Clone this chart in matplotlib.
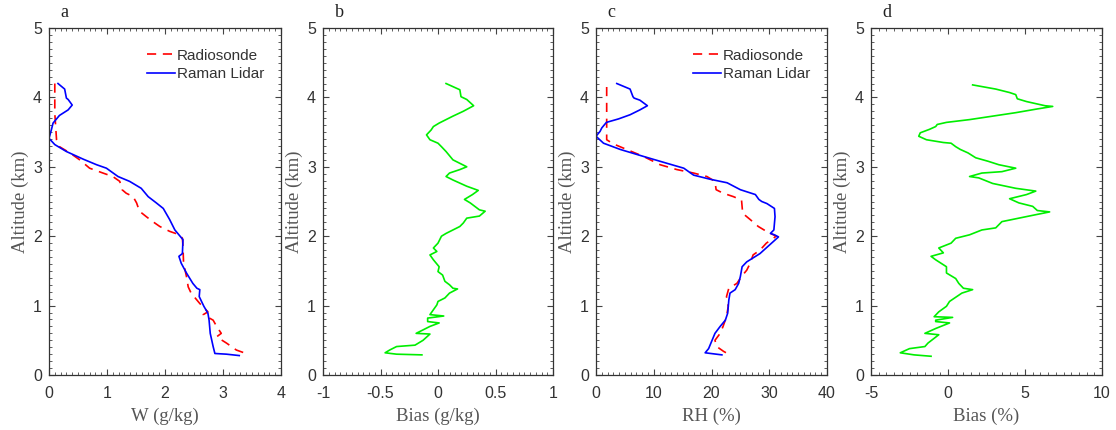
import matplotlib
matplotlib.use("Agg")
import matplotlib.pyplot as plt
from matplotlib.ticker import MultipleLocator, FuncFormatter

# ---- data ----
# panel a: water vapour mixing ratio (g/kg)
w_lidar_x = [0.155, 0.27, 0.30, 0.33, 0.40, 0.33, 0.18, 0.07, 0.04, 0.0, 0.10, 0.30, 0.59, 0.82, 0.99,
             1.19, 1.39, 1.59, 1.71, 1.85, 1.97, 2.08, 2.17, 2.26, 2.31, 2.30, 2.24, 2.28, 2.37, 2.48,
             2.55, 2.60, 2.59, 2.67, 2.74, 2.76, 2.78, 2.83, 2.86, 3.06, 3.28]
w_lidar_y = [4.20, 4.12, 3.99, 3.97, 3.89, 3.82, 3.74, 3.63, 3.53, 3.41, 3.32, 3.22, 3.11, 3.03, 2.98,
             2.86, 2.79, 2.69, 2.57, 2.48, 2.40, 2.24, 2.09, 2.00, 1.95, 1.75, 1.71, 1.61, 1.47, 1.32,
             1.25, 1.23, 1.13, 0.99, 0.89, 0.79, 0.60, 0.41, 0.31, 0.30, 0.28]
w_sonde_x = [0.10, 0.10, 0.10, 0.13, 0.18, 0.36, 0.53, 0.70, 0.93, 1.10, 1.22, 1.26, 1.33, 1.45, 1.51,
             1.56, 1.68, 1.79, 1.91, 2.08, 2.25, 2.30, 2.31, 2.32, 2.37, 2.40, 2.45, 2.60, 2.74, 2.66,
             2.83, 2.89, 2.97, 2.89, 3.06, 3.23, 3.43]
w_sonde_y = [4.20, 4.16, 3.77, 3.39, 3.29, 3.20, 3.10, 2.98, 2.91, 2.86, 2.79, 2.67, 2.62, 2.57, 2.48,
             2.36, 2.28, 2.21, 2.14, 2.07, 2.02, 1.97, 1.85, 1.61, 1.42, 1.27, 1.18, 1.03, 0.91, 0.87,
             0.79, 0.70, 0.60, 0.55, 0.46, 0.36, 0.30]

# panel b: W bias (g/kg)
wb_x = [0.07, 0.19, 0.20, 0.25, 0.31, 0.22, 0.13, 0.01, -0.04, -0.06, -0.10, -0.07, 0.0, 0.03, 0.07,
        0.13, 0.19, 0.25, 0.19, 0.10, 0.07, 0.13, 0.25, 0.35, 0.30, 0.23, 0.28, 0.36, 0.41, 0.36,
        0.25, 0.22, 0.19, 0.13, 0.07, 0.03, 0.0, -0.04, -0.01, -0.07, -0.04, 0.01, 0.0, 0.04, 0.06,
        0.10, 0.13, 0.17, 0.10, 0.06, 0.0, -0.01, -0.04, -0.07, 0.05, -0.09, -0.09, 0.01, -0.07, -0.13,
        -0.19, -0.07, -0.13, -0.20, -0.36, -0.42, -0.46, -0.36, -0.14]
wb_y = [4.20, 4.11, 4.01, 3.97, 3.88, 3.80, 3.73, 3.63, 3.58, 3.53, 3.46, 3.39, 3.34, 3.29, 3.22,
        3.10, 3.05, 3.00, 2.96, 2.91, 2.86, 2.81, 2.72, 2.66, 2.60, 2.53, 2.48, 2.38, 2.36, 2.29,
        2.26, 2.19, 2.14, 2.09, 2.04, 2.00, 1.90, 1.83, 1.78, 1.73, 1.66, 1.56, 1.49, 1.44, 1.35,
        1.30, 1.25, 1.24, 1.18, 1.11, 1.06, 1.01, 0.94, 0.87, 0.85, 0.82, 0.77, 0.75, 0.70, 0.65,
        0.60, 0.59, 0.50, 0.43, 0.41, 0.36, 0.32, 0.30, 0.29]

# panel c: relative humidity (%)
rh_lidar_x = [3.6, 5.9, 6.4, 6.6, 7.6, 8.9, 7.6, 5.9, 3.9, 1.8, 1.0, 0.7, 0.0, 1.3, 4.2, 8.2, 12.3,
              15.2, 16.9, 19.8, 22.7, 25.0, 27.6, 28.2, 28.7, 29.6, 30.9, 31.0, 30.8, 30.2, 30.9, 31.6,
              28.4, 26.1, 25.3, 25.0, 24.7, 24.1, 23.2, 23.0, 22.8, 22.4, 21.5, 20.6, 20.1, 19.5, 18.9, 21.8]
rh_lidar_y = [4.20, 4.12, 4.01, 3.99, 3.96, 3.88, 3.82, 3.75, 3.69, 3.64, 3.56, 3.51, 3.44, 3.34, 3.25, 3.15, 3.05,
              2.98, 2.88, 2.82, 2.77, 2.67, 2.60, 2.53, 2.50, 2.47, 2.40, 2.28, 2.09, 2.04, 2.02, 1.99,
              1.75, 1.63, 1.56, 1.42, 1.32, 1.23, 1.18, 1.08, 0.89, 0.79, 0.70, 0.60, 0.50, 0.38, 0.32, 0.29]
rh_sonde_x = [1.85, 1.85, 1.85, 3.0, 5.3, 8.2, 11.1, 14.0, 16.9, 19.2, 20.6, 20.8, 22.0, 23.8, 25.2,
              25.4, 26.7, 28.1, 29.5, 31.2, 29.5, 28.4, 27.2, 26.7, 26.1, 25.2, 24.4, 23.0, 22.6, 22.9,
              22.6, 22.0, 21.5, 20.6, 20.9, 22.1, 23.2]
rh_sonde_y = [4.15, 3.46, 3.39, 3.33, 3.25, 3.15, 3.03, 2.96, 2.91, 2.86, 2.79, 2.67, 2.62, 2.57, 2.52,
              2.33, 2.24, 2.14, 2.07, 2.00, 1.90, 1.80, 1.73, 1.61, 1.51, 1.42, 1.32, 1.25, 1.13, 0.99,
              0.84, 0.70, 0.60, 0.50, 0.41, 0.34, 0.29]

# panel d: RH bias (%)
rhb_x = [1.6, 3.1, 4.0, 4.4, 4.5, 5.1, 6.3, 6.8, 5.7, 4.4, 2.9, 1.4, -0.1, -0.7, -0.8, -1.2, -1.8,
         -1.9, -1.4, -0.3, 0.2, 0.5, 0.8, 1.3, 1.8, 2.6, 3.3, 4.4, 3.5, 2.2, 1.4, 2.0, 2.9, 4.4, 5.7,
         5.1, 4.0, 4.6, 5.5, 5.8, 6.6, 5.7, 4.6, 3.5, 3.1, 2.2, 1.4, 0.5, 0.2, -0.6, -0.3, -1.1, -0.8,
         -0.1, -0.1, 0.5, 0.7, 1.0, 1.6, 0.9, 0.1, -0.1, -0.6, -0.9, 0.3, -0.8, -0.8, 0.1, -0.8, -1.5,
         -0.6, -1.3, -1.5, -2.5, -3.1, -2.2, -1.1]
rhb_y = [4.18, 4.12, 4.07, 4.04, 3.98, 3.94, 3.88, 3.87, 3.83, 3.78, 3.73, 3.68, 3.64, 3.61, 3.58, 3.54, 3.49,
         3.44, 3.39, 3.35, 3.34, 3.29, 3.25, 3.20, 3.13, 3.08, 3.03, 2.98, 2.93, 2.91, 2.86, 2.84, 2.76, 2.69, 2.65,
         2.60, 2.54, 2.48, 2.43, 2.37, 2.35, 2.31, 2.26, 2.21, 2.12, 2.09, 2.02, 1.97, 1.90, 1.83, 1.76, 1.71, 1.66,
         1.56, 1.47, 1.39, 1.32, 1.25, 1.23, 1.18, 1.06, 0.99, 0.91, 0.84, 0.83, 0.79, 0.77, 0.75, 0.67, 0.60,
         0.58, 0.46, 0.41, 0.38, 0.32, 0.29, 0.27]

SERIF = ["Liberation Serif", "DejaVu Serif"]
SANS = ["Liberation Sans", "DejaVu Sans"]
LABEL_C = "#555555"
TICK_C = "#333333"

plt.rcParams["font.family"] = SANS

fig = plt.figure(figsize=(11.16, 4.3), dpi=100)

# [left, bottom, width, height] in figure fraction
boxes = [
    [49 / 1116, 55 / 430, 232 / 1116, 347 / 430],
    [323 / 1116, 55 / 430, 230 / 1116, 347 / 430],
    [596 / 1116, 55 / 430, 231 / 1116, 347 / 430],
    [871 / 1116, 55 / 430, 231 / 1116, 347 / 430],
]
xlims = [(0, 4), (-1, 1), (0, 40), (-5, 10)]
xmajor = [1, 0.5, 10, 5]
xminor = [0.1, 0.05, 1, 0.5]
xlabels = ["W (g/kg)", "Bias (g/kg)", "RH (%)", "Bias (%)"]
letters = ["a", "b", "c", "d"]

# matlab-like tick text: -0.5, 0, 1 (plain hyphen, no trailing .0)
fmt = FuncFormatter(lambda v, pos: "%g" % round(v, 6))

axes = []
for i, box in enumerate(boxes):
    ax = fig.add_axes(box)
    ax.set_xlim(*xlims[i])
    ax.set_ylim(0, 5)
    ax.xaxis.set_major_locator(MultipleLocator(xmajor[i]))
    ax.xaxis.set_minor_locator(MultipleLocator(xminor[i]))
    ax.yaxis.set_major_locator(MultipleLocator(1))
    ax.yaxis.set_minor_locator(MultipleLocator(0.1))
    ax.xaxis.set_major_formatter(fmt)
    ax.yaxis.set_major_formatter(fmt)
    ax.tick_params(which="both", direction="in", top=True, right=True, colors="#444444",
                   labelcolor=TICK_C, labelsize=11.5)
    ax.tick_params(axis="x", which="major", pad=8)
    ax.tick_params(axis="y", which="major", pad=5)
    ax.tick_params(which="major", length=4, width=0.8)
    ax.tick_params(which="minor", length=2, width=0.6)
    for sp in ax.spines.values():
        sp.set_color("#333333")
        sp.set_linewidth(0.9)
    ax.set_xlabel(xlabels[i], family=SERIF, fontsize=13.5, color=LABEL_C, labelpad=5)
    ax.set_ylabel("Altitude (km)", family=SERIF, fontsize=13.5, color=LABEL_C, labelpad=3)
    ax.text(0.05, 1.02, letters[i], transform=ax.transAxes, family=SERIF, fontsize=13,
            color="#222222", ha="left", va="bottom")
    axes.append(ax)

ax_a, ax_b, ax_c, ax_d = axes

ax_a.plot(w_sonde_x, w_sonde_y, "--", color="#ff0000", lw=1.2, dashes=(5.5, 4), label="Radiosonde")
ax_a.plot(w_lidar_x, w_lidar_y, "-", color="#0000ff", lw=1.2, label="Raman Lidar")
ax_b.plot(wb_x, wb_y, "-", color="#00ee00", lw=1.2)
ax_c.plot(rh_sonde_x, rh_sonde_y, "--", color="#ff0000", lw=1.2, dashes=(5.5, 4), label="Radiosonde")
ax_c.plot(rh_lidar_x, rh_lidar_y, "-", color="#0000ff", lw=1.2, label="Raman Lidar")
ax_d.plot(rhb_x, rhb_y, "-", color="#00ee00", lw=1.2)

for ax in (ax_a, ax_c):
    ax.legend(loc="upper right", frameon=False, fontsize=11, handlelength=1.8,
              handletextpad=0.15, borderaxespad=0.0, labelspacing=0.3,
              bbox_to_anchor=(0.955, 0.958))
    for t in ax.get_legend().get_texts():
        t.set_color(TICK_C)

fig.savefig("out.png", dpi=100)
